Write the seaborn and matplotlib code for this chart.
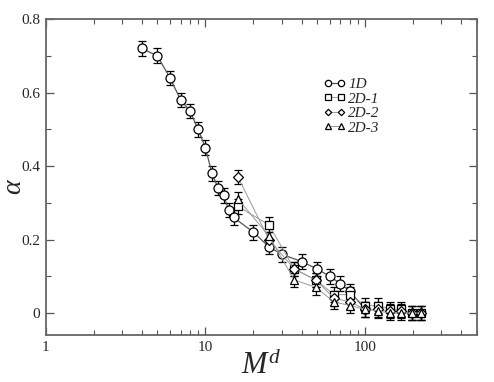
import numpy as np
import pandas as pd
import matplotlib
matplotlib.use("Agg")
import matplotlib.pyplot as plt
import seaborn as sns
from matplotlib.ticker import FixedLocator, FixedFormatter, NullFormatter, LogLocator, MultipleLocator

# values
m_1d = [4, 5, 6, 7, 8, 9, 10, 11, 12, 13, 14, 15, 20, 25, 30, 40, 50, 60, 70, 80, 100]
a_1d = [0.72, 0.70, 0.64, 0.58, 0.55, 0.50, 0.45, 0.38, 0.34, 0.32, 0.28, 0.26,
        0.22, 0.18, 0.16, 0.14, 0.12, 0.10, 0.08, 0.06, 0.01]
err_1d = [0.02] * len(m_1d)

m_2d = [16, 25, 36, 49, 64, 81, 100, 121, 144, 169, 196, 225]
a_2d1 = [0.29, 0.24, 0.12, 0.09, 0.05, 0.05, 0.02, 0.02, 0.01, 0.01, 0.00, 0.00]
a_2d2 = [0.37, 0.20, 0.12, 0.09, 0.04, 0.03, 0.01, 0.01, 0.005, 0.005, 0.00, 0.00]
a_2d3 = [0.31, 0.21, 0.09, 0.07, 0.03, 0.02, 0.01, 0.005, 0.00, 0.00, 0.00, 0.00]
err_2d = [0.02] * len(m_2d)

labels = ["1D", "2D-1", "2D-2", "2D-3"]

sns.set_style("ticks")
plt.rcParams["font.family"] = ["Liberation Serif", "DejaVu Serif"]
plt.rcParams["mathtext.fontset"] = "custom"
plt.rcParams["mathtext.it"] = "Liberation Serif:italic"
plt.rcParams["mathtext.rm"] = "Liberation Serif"

fig = plt.figure(figsize=(4.94, 3.82), dpi=100)
ax = fig.add_axes([0.0925, 0.123, 0.8725, 0.827])

series = [
    (m_1d, a_1d, err_1d, "o", "#555555", 0.9, 6.5),
    (m_2d, a_2d1, err_2d, "s", "#999999", 0.7, 5.2),
    (m_2d, a_2d2, err_2d, "D", "#999999", 0.7, 4.6),
    (m_2d, a_2d3, err_2d, "^", "#999999", 0.7, 5.8),
]

for (m, a, e, mk, col, lw, ms), lab in zip(series, labels):
    ax.errorbar(m, a, yerr=e, fmt="none", ecolor="black", elinewidth=0.9,
                capsize=3.2, capthick=0.9, zorder=2)
    df = pd.DataFrame({"M": m, "alpha": a})
    sns.lineplot(data=df, x="M", y="alpha", ax=ax, color=col, linewidth=lw,
                 marker=mk, markersize=ms, markerfacecolor="white",
                 markeredgecolor="black", markeredgewidth=0.9,
                 label=lab, zorder=3, estimator=None, sort=False)

ax.set_xscale("log")
ax.set_xlim(1, 500)
ax.set_ylim(-0.06, 0.8)

ax.xaxis.set_major_locator(FixedLocator([1, 10, 100]))
ax.xaxis.set_major_formatter(FixedFormatter(["1", "10", "100"]))
ax.xaxis.set_minor_locator(LogLocator(base=10, subs=np.arange(2, 10)))
ax.xaxis.set_minor_formatter(NullFormatter())
ax.yaxis.set_major_locator(FixedLocator([0, 0.2, 0.4, 0.6, 0.8]))
ax.yaxis.set_major_formatter(FixedFormatter(["0", "0.2", "0.4", "0.6", "0.8"]))
ax.yaxis.set_minor_locator(MultipleLocator(0.1))

ax.tick_params(which="both", direction="in", top=True, right=True,
               color="#555555", labelsize=11, pad=4)
ax.tick_params(which="major", length=6, width=0.9)
ax.tick_params(which="minor", length=3.5, width=0.8)
for sp in ax.spines.values():
    sp.set_color("#666666")
    sp.set_linewidth(1.3)

ax.set_xlabel("$M^d$", fontsize=22, labelpad=-2)
ax.set_ylabel(r"$\alpha$", fontsize=20)
ax.yaxis.set_label_coords(-0.043, 0.47)

ax.legend(loc="upper left", bbox_to_anchor=(0.645, 0.815), frameon=False,
          numpoints=2, handlelength=1.45, handletextpad=0.15, labelspacing=0.05,
          markerscale=0.7, borderpad=0, borderaxespad=0,
          prop={"family": "Liberation Serif", "style": "italic", "size": 11})

fig.savefig("out.png", dpi=100)
